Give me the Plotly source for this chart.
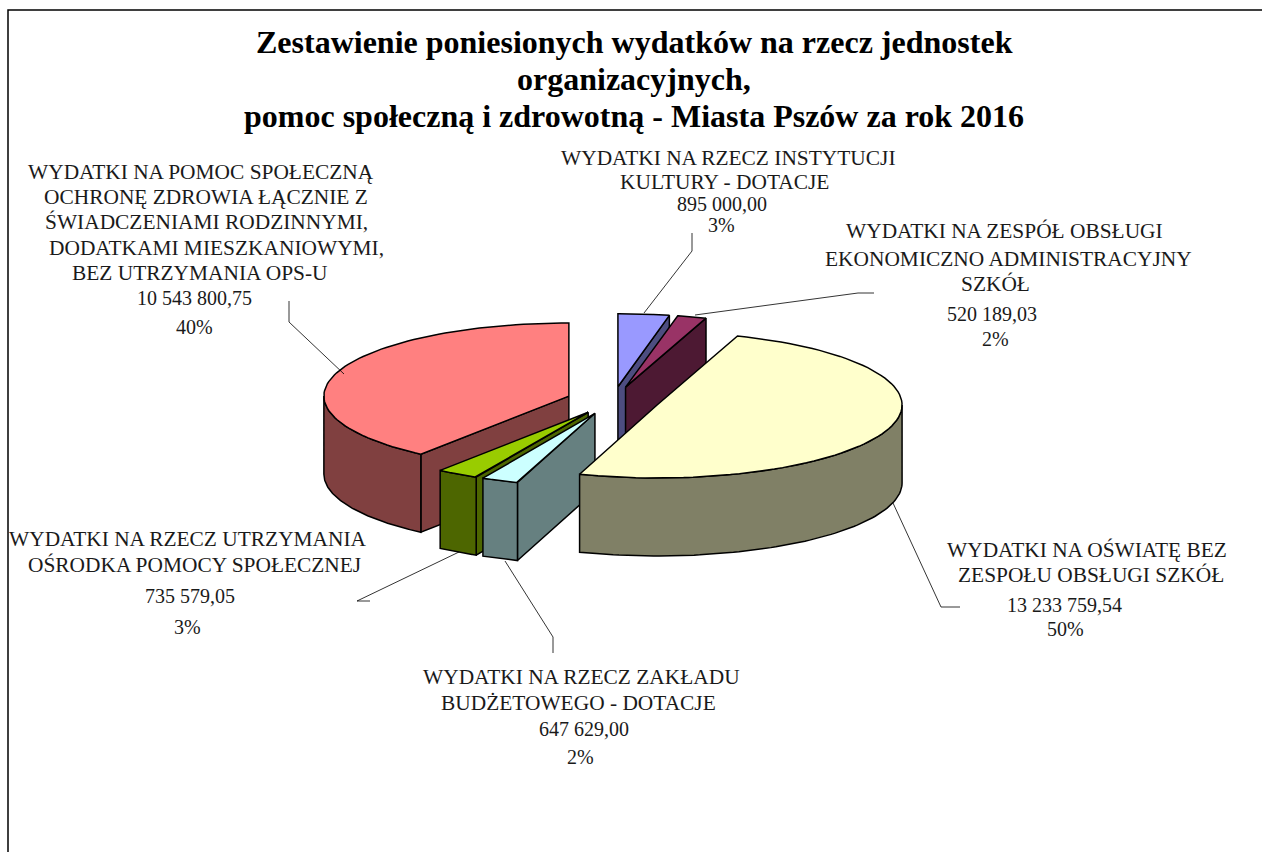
import math
import plotly.graph_objects as go

# ---- data ----
names = ["Instytucje kultury", "Zespół obsługi", "Oświata", "Zakład budżetowy", "Utrzymanie OPS", "Pomoc społeczna"]
values = [895000.00, 520189.03, 13233759.54, 647629.00, 735579.05, 10543800.75]
top_colors = ["#9999FF", "#993366", "#FFFFCC", "#CCFFFF", "#99CC00", "#FF8080"]
side_colors = ["#4D4D80", "#4D1933", "#808066", "#668080", "#4D6600", "#804040"]
draw_order = [5, 4, 3, 0, 1, 2]

title_lines = ["Zestawienie poniesionych wydatków na rzecz jednostek", "organizacyjnych,",
               "pomoc społeczną i zdrowotną - Miasta Pszów za rok 2016"]
title_pos = [(634, 42), (634, 79), (634, 116)]

label_texts = [
    ["WYDATKI NA RZECZ INSTYTUCJI", "KULTURY - DOTACJE"],
    ["WYDATKI NA ZESPÓŁ OBSŁUGI", "EKONOMICZNO ADMINISTRACYJNY", "SZKÓŁ"],
    ["WYDATKI NA OŚWIATĘ BEZ", "ZESPOŁU OBSŁUGI SZKÓŁ"],
    ["WYDATKI NA RZECZ ZAKŁADU", "BUDŻETOWEGO - DOTACJE"],
    ["WYDATKI NA RZECZ UTRZYMANIA", "OŚRODKA POMOCY SPOŁECZNEJ"],
    ["WYDATKI NA POMOC SPOŁECZNĄ", "OCHRONĘ ZDROWIA ŁĄCZNIE Z", "ŚWIADCZENIAMI RODZINNYMI,",
     "DODATKAMI MIESZKANIOWYMI,", "BEZ UTRZYMANIA OPS-U"],
]
# (centre x, y) of every label line, then the value line, then the percent line
label_pos = [
    [(728, 158), (724, 182), (722, 204), (721, 225)],
    [(1004, 231), (1008, 259), (995, 284), (992, 314), (995, 339)],
    [(1087, 550), (1091, 575), (1064, 605), (1065, 629)],
    [(581, 677), (578, 703), (584, 729), (580, 757)],
    [(188, 539), (194, 565), (190, 596), (187, 627)],
    [(201, 172), (206, 197), (206, 222), (216, 248), (200, 273), (194, 298), (194, 327)],
]
leader_paths = [
    [(692, 233), (692, 251), (644, 313)],
    [(874, 293), (858, 293), (695, 315)],
    [(960, 607), (941, 607), (893, 503)],
    [(553, 653), (553, 637), (505, 561)],
    [(370, 601), (357, 601), (459, 552)],
    [(289, 301), (289, 322), (344, 374)],
]

# ---- pie projection ----
CX, CY, RX, RY, DEPTH, EXPLODE = 613, 400.5, 245, 73, 78, 0.19
TOTAL = sum(values)


def point(cx, cy, a, dz=0):
    return cx + RX * math.sin(a), cy - RY * math.cos(a) + dz


def arc(cx, cy, a0, a1, dz=0, n=80):
    return [point(cx, cy, a0 + (a1 - a0) * i / n, dz) for i in range(n + 1)]


def poly(pts, fill):
    xs = [p[0] for p in pts] + [pts[0][0]]
    ys = [p[1] for p in pts] + [pts[0][1]]
    return go.Scatter(x=xs, y=ys, mode="lines", fill="toself", fillcolor=fill,
                      line=dict(color="black", width=1.5), hoverinfo="skip", showlegend=False)


def fmt(v):
    whole, dec = f"{v:.2f}".split(".")
    return f"{int(whole):,}".replace(",", " ") + "," + dec


traces_by_slice = {}
start = 0.0
for i, v in enumerate(values):
    sweep = 2 * math.pi * v / TOTAL
    a0, a1 = start, start + sweep
    start = a1
    mid = (a0 + a1) / 2
    cx = CX + EXPLODE * RX * math.sin(mid)
    cy = CY - EXPLODE * RY * math.cos(mid)
    tr = []
    # hidden-surface rule for the two radial walls
    if math.sin(a0) < -1e-6:
        r = point(cx, cy, a0)
        tr.append(poly([(cx, cy), r, (r[0], r[1] + DEPTH), (cx, cy + DEPTH)], side_colors[i]))
    if math.sin(a1) > 1e-6:
        r = point(cx, cy, a1)
        tr.append(poly([(cx, cy), r, (r[0], r[1] + DEPTH), (cx, cy + DEPTH)], side_colors[i]))
    # outer rim: only the front half of the ellipse
    r0, r1 = max(a0, math.pi / 2), min(a1, 3 * math.pi / 2)
    if r1 > r0:
        tr.append(poly(arc(cx, cy, r0, r1) + arc(cx, cy, r1, r0, DEPTH), side_colors[i]))
    tr.append(poly([(cx, cy)] + arc(cx, cy, a0, a1), top_colors[i]))
    traces_by_slice[i] = tr

fig = go.Figure()
for i in draw_order:
    for t in traces_by_slice[i]:
        fig.add_trace(t)

for path in leader_paths:
    fig.add_trace(go.Scatter(x=[p[0] for p in path], y=[p[1] for p in path], mode="lines",
                             line=dict(color="black", width=0.8), hoverinfo="skip", showlegend=False))

SERIF = "Liberation Serif"
anns = []
for (x, y), t in zip(title_pos, title_lines):
    anns.append(dict(x=x, y=y, text=f"<b>{t}</b>", showarrow=False, xanchor="center", yanchor="middle",
                     font=dict(family=SERIF, size=32, color="black")))
for i, lines in enumerate(label_texts):
    texts = lines + [fmt(values[i]), f"{round(values[i] / TOTAL * 100)}%"]
    for j, ((x, y), t) in enumerate(zip(label_pos[i], texts)):
        anns.append(dict(x=x, y=y, text=t, showarrow=False, xanchor="center", yanchor="middle",
                         font=dict(family=SERIF, size=21.4 if j < len(lines) else 20, color="#1a1a1a")))

fig.update_layout(
    width=1262, height=852, margin=dict(l=0, r=0, t=0, b=0),
    paper_bgcolor="white", plot_bgcolor="white", showlegend=False, annotations=anns,
    xaxis=dict(range=[0, 1262], visible=False, fixedrange=True),
    yaxis=dict(range=[852, 0], visible=False, fixedrange=True),
    shapes=[dict(type="rect", xref="x", yref="y", x0=8, y0=10, x1=1290, y1=900,
                 line=dict(color="black", width=1.5), layer="below")],
)
fig.write_html("out.html", config={"displayModeBar": False},
               post_script="document.body.style.margin='0';")
